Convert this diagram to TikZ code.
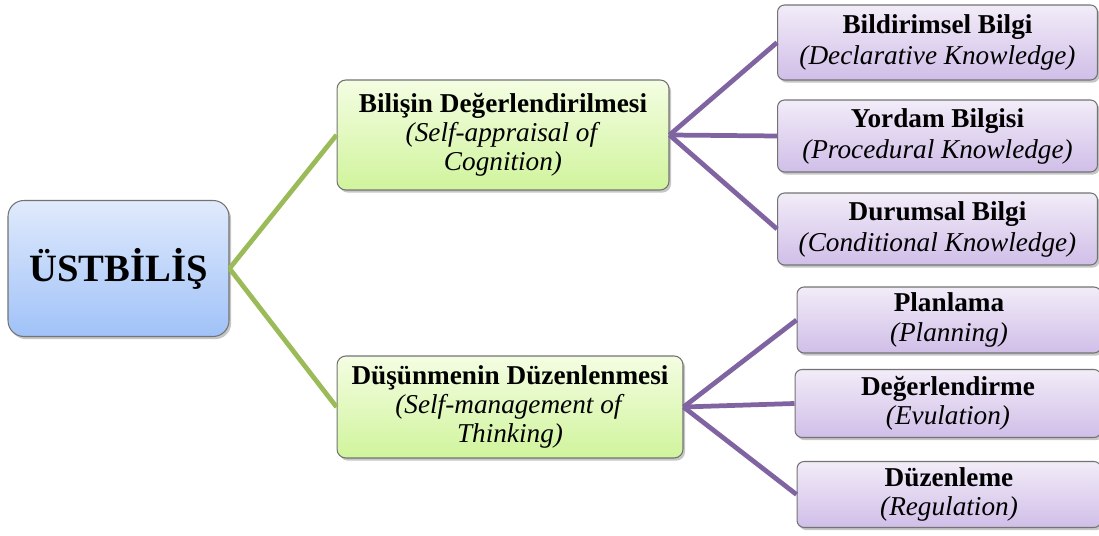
\documentclass[tikz,border=0pt]{standalone}
\usepackage{fontspec}
\setmainfont{Liberation Serif}[ItalicFont={Liberation Serif Italic}, BoldFont={Liberation Serif Bold}]
\usepackage{tikz}
\usetikzlibrary{shadows}
\definecolor{rootTop}{RGB}{224,234,252}
\definecolor{rootBot}{RGB}{160,194,248}
\definecolor{midTop}{RGB}{244,253,226}
\definecolor{midBot}{RGB}{208,244,156}
\definecolor{leafTop}{RGB}{242,236,248}
\definecolor{leafBot}{RGB}{208,190,232}
\definecolor{greenLine}{RGB}{155,187,89}
\definecolor{purpleLine}{RGB}{128,100,162}

\begin{document}
\begin{tikzpicture}[x=0.02cm, y=-0.02cm,
  box/.style={draw=black!55, line width=0.6pt, align=center, inner sep=2pt,
    drop shadow={opacity=0.45, shadow xshift=1.2pt, shadow yshift=-1.5pt},
    font=\rmfamily\fontsize{15.5}{16.6}\selectfont},
  rootbox/.style={box, rounded corners=9pt, top color=rootTop, bottom color=rootBot,
    font=\rmfamily\fontsize{22}{27}\selectfont\bfseries},
  midbox/.style={box, rounded corners=5pt, top color=midTop, bottom color=midBot},
  leafbox/.style={box, rounded corners=4pt, top color=leafTop, bottom color=leafBot},
  greenlink/.style={greenLine, line width=2.7pt},
  purplelink/.style={purpleLine, line width=2.7pt}]
\useasboundingbox (0,0) rectangle (1099,536);
\node[rootbox, minimum width=4.42cm, minimum height=2.72cm] (root) at (118.5,268.5) {ÜSTBİLİŞ};
\node[midbox, minimum width=6.64cm, minimum height=2.2cm] (cog) at (503,135)
  {\textbf{Bilişin Değerlendirilmesi}\\ \textit{(Self-appraisal of}\\ \textit{Cognition)}};
\node[midbox, minimum width=6.92cm, minimum height=2.04cm] (think) at (510,407)
  {\textbf{Düşünmenin Düzenlenmesi}\\ \textit{(Self-management of}\\ \textit{Thinking)}};
\node[leafbox, minimum width=6.4cm, minimum height=1.5cm] (decl) at (937.5,42.5)
  {\textbf{Bildirimsel Bilgi}\\[1pt] \textit{(Declarative Knowledge)}};
\node[leafbox, minimum width=6.4cm, minimum height=1.44cm] (proc) at (937.5,136)
  {\textbf{Yordam Bilgisi}\\[1pt] \textit{(Procedural Knowledge)}};
\node[leafbox, minimum width=6.4cm, minimum height=1.44cm] (cond) at (937.5,229)
  {\textbf{Durumsal Bilgi}\\[1pt] \textit{(Conditional Knowledge)}};
\node[leafbox, minimum width=6.08cm, minimum height=1.32cm] (plan) at (949,320)
  {\textbf{Planlama}\\ \textit{(Planning)}};
\node[leafbox, minimum width=6.12cm, minimum height=1.36cm] (eval) at (948,403.5)
  {\textbf{Değerlendirme}\\ \textit{(Evulation)}};
\node[leafbox, minimum width=6.08cm, minimum height=1.32cm] (reg) at (949,494.5)
  {\textbf{Düzenleme}\\ \textit{(Regulation)}};
\draw[greenlink] (root.east) -- (cog.west);
\draw[greenlink] (root.east) -- (think.west);
\draw[purplelink] (cog.east) -- (decl.west);
\draw[purplelink] (cog.east) -- (proc.west);
\draw[purplelink] (cog.east) -- (cond.west);
\draw[purplelink] (think.east) -- (plan.west);
\draw[purplelink] (think.east) -- (eval.west);
\draw[purplelink] (think.east) -- (reg.west);
\end{tikzpicture}
\end{document}
